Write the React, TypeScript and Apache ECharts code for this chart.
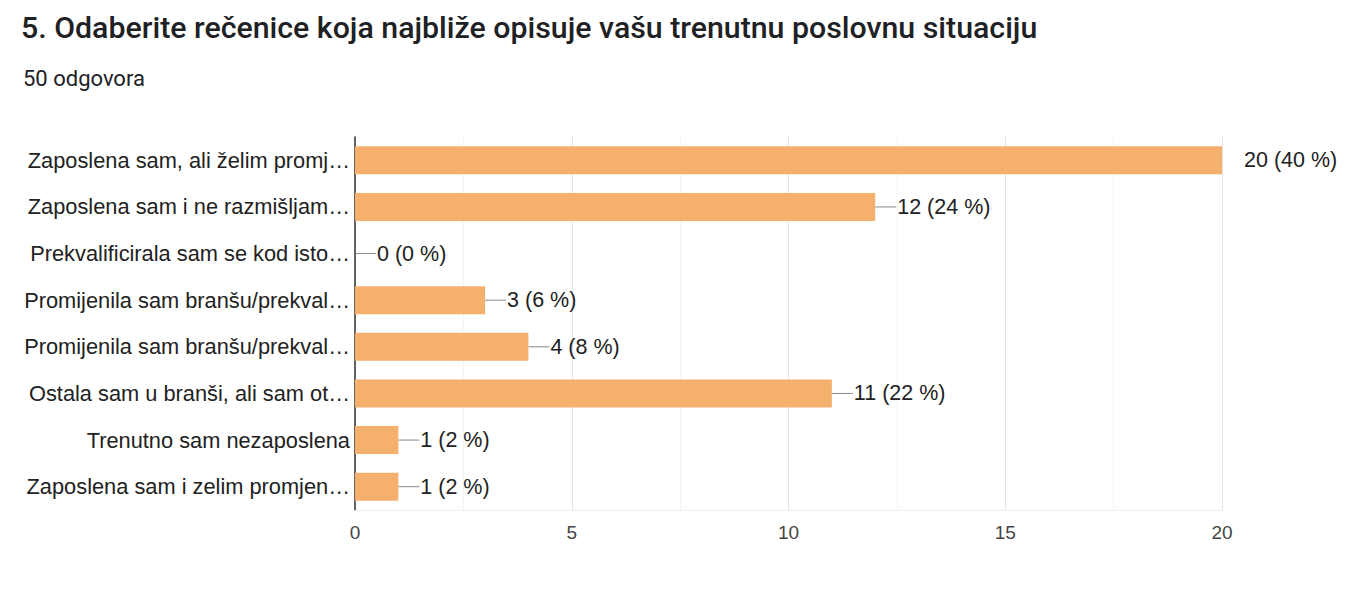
import React, { useEffect, useRef } from "react";
import * as echarts from "echarts";

const titleText = "5. Odaberite rečenice koja najbliže opisuje vašu trenutnu poslovnu situaciju";
const subtitleText = "50 odgovora";
const categories = [
  "Zaposlena sam, ali želim promj…",
  "Zaposlena sam i ne razmišljam…",
  "Prekvalificirala sam se kod isto…",
  "Promijenila sam branšu/prekval…",
  "Promijenila sam branšu/prekval…",
  "Ostala sam u branši, ali sam ot…",
  "Trenutno sam nezaposlena",
  "Zaposlena sam i zelim promjen…",
];
const counts = [20, 12, 0, 3, 4, 11, 1, 1];
const percents = [40, 24, 0, 6, 8, 22, 2, 2];
const xTickLabels = [0, 5, 10, 15, 20];

export default function App() {
  const ref = useRef<HTMLDivElement>(null);
  useEffect(() => {
    const chart = echarts.init(ref.current!, null, { renderer: "svg" });
    const font = "Arial, 'Liberation Sans', sans-serif";
    chart.setOption({
      animation: false,
      backgroundColor: "#ffffff",
      title: [
        {
          text: titleText,
          left: 16,
          top: 7,
          textStyle: { fontFamily: "Roboto", fontSize: 30.3, fontWeight: 500, color: "#202124" },
        },
        {
          text: subtitleText,
          left: 18,
          top: 62,
          textStyle: { fontFamily: "Roboto", fontSize: 22, fontWeight: "normal", color: "#202124" },
        },
      ],
      grid: { left: 355, right: 137, top: 137, bottom: 92, containLabel: false },
      xAxis: {
        type: "value",
        min: 0,
        max: 20,
        interval: 2.5,
        axisLine: { show: true, lineStyle: { color: "#ededed" } },
        axisTick: { show: false },
        axisLabel: {
          margin: 13,
          fontFamily: font,
          fontSize: 19,
          color: "#444",
          formatter: (v: number) => (xTickLabels.includes(v) ? String(v) : ""),
        },
        splitLine: { show: true, lineStyle: { color: ["#e4e4e4", "#f3f3f3"] } },
      },
      yAxis: {
        type: "category",
        inverse: true,
        data: categories,
        axisLine: { show: true, lineStyle: { color: "#333", width: 1.5 } },
        axisTick: { show: false },
        axisLabel: { margin: 5, fontFamily: font, fontSize: 21.8, color: "#222" },
        splitLine: { show: false },
      },
      series: [
        {
          type: "bar",
          data: counts,
          barWidth: 28,
          itemStyle: { color: "#f5b06e" },
          label: {
            show: true,
            position: "right",
            distance: 22,
            fontFamily: font,
            fontSize: 21.5,
            color: "#222",
            formatter: (p: any) => `${counts[p.dataIndex]} (${percents[p.dataIndex]} %)`,
          },
          z: 3,
        },
        {
          type: "custom",
          clip: true,
          data: counts.map((c, i) => [c, i]),
          encode: { x: 0, y: 1 },
          renderItem: (params: any, api: any) => {
            const p = api.coord([api.value(0), api.value(1)]);
            return {
              type: "line",
              shape: { x1: p[0], y1: p[1], x2: p[0] + 21, y2: p[1] },
              style: { stroke: "#888", lineWidth: 1 },
            };
          },
          z: 2,
        },
      ],
    });
    return () => chart.dispose();
  }, []);
  return (
    <div
      ref={ref}
      style={{ position: "absolute", left: 0, top: 0, width: 1359, height: 602 }}
    />
  );
}
